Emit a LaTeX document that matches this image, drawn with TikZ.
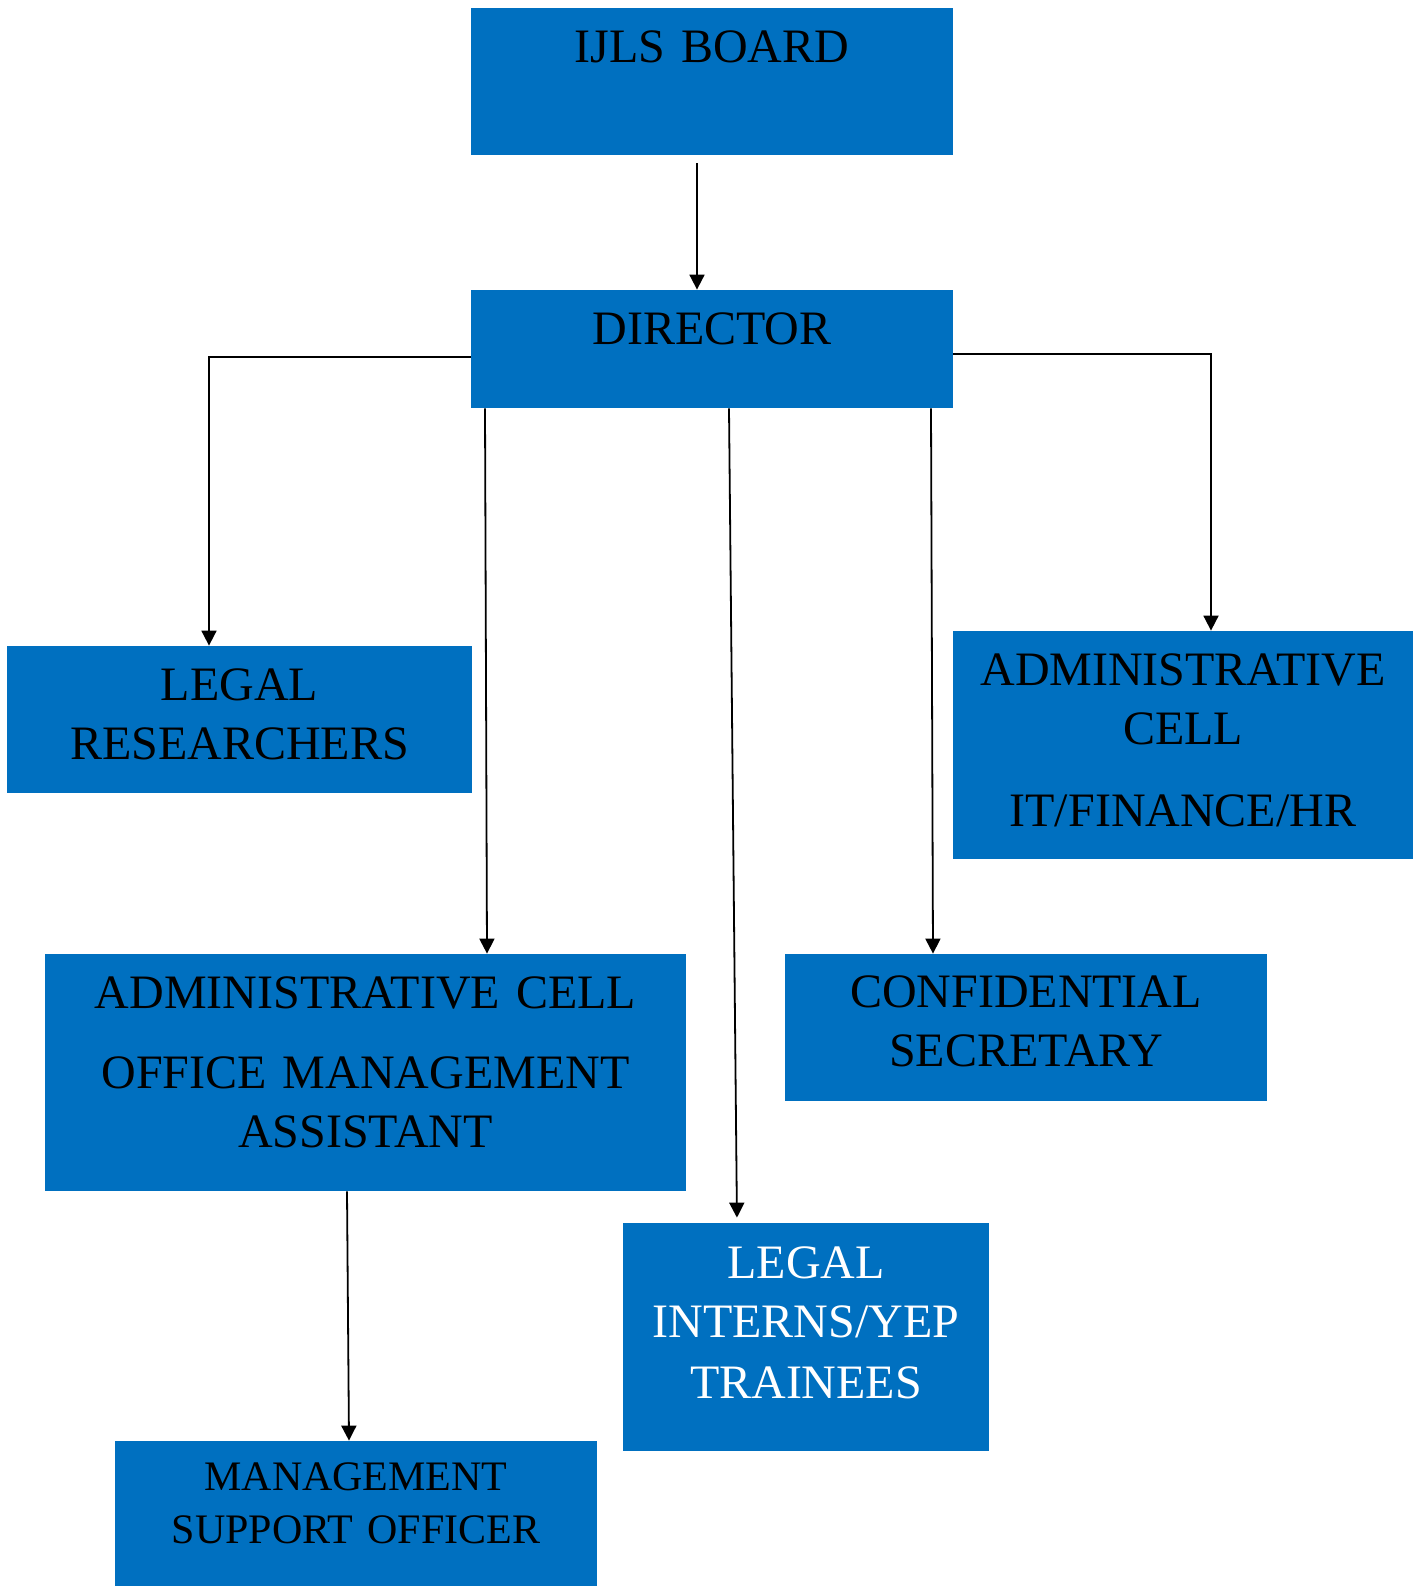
\documentclass[tikz,border=0pt]{standalone}
\usepackage{fontspec}
\setmainfont{Liberation Serif}
\usepackage{tikz}
\usetikzlibrary{arrows.meta}
\definecolor{ijlsblue}{RGB}{0,112,192}

\begin{document}
\begin{tikzpicture}[x=0.5pt, y=-0.5pt,
    unit/.style={fill=ijlsblue, inner sep=0pt, align=center, anchor=base,
        font=\fontsize{24pt}{29.5pt}\selectfont},
    link/.style={->, line width=0.9pt},
    >={Triangle[length=7.5pt, width=7.5pt]}]

    \useasboundingbox (0,0) rectangle (1418,1586);

    % Nodes
    \node at (712,62) (board) [unit, text width=241pt, text height=27pt, text depth=46.5pt] {IJLS BOARD};
    \node at (712,344) (director) [unit, text width=241pt, text height=27pt, text depth=32pt] {DIRECTOR};
    \node at (239.5,700) (legal) [unit, text width=232.5pt, text height=27pt, text depth=46.5pt] {LEGAL\\RESEARCHERS};
    \node at (1183,685) (itcell) [unit, text width=230pt, text height=27pt, text depth=87pt] {ADMINISTRATIVE\\CELL\\[11.5pt]IT/FINANCE/HR};
    \node at (365.5,1008) (officecell) [unit, text width=320.5pt, text height=27pt, text depth=91.5pt] {ADMINISTRATIVE CELL\\[10.5pt]OFFICE MANAGEMENT\\ASSISTANT};
    \node at (1026,1007) (secretary) [unit, text width=241pt, text height=26.5pt, text depth=47pt] {CONFIDENTIAL\\SECRETARY};
    \node at (806,1278) (interns) [unit, text width=183pt, text height=27.5pt, text depth=86.5pt, text=white] {LEGAL\\INTERNS/YEP\\[1pt]TRAINEES};
    \node at (356,1490) (mso) [unit, text width=241pt, text height=24.5pt, text depth=50pt, font=\fontsize{21pt}{26.5pt}\selectfont] {MANAGEMENT\\SUPPORT OFFICER};

    % Arrows
    \draw[link] ([xshift=-7.5pt, yshift=-4pt]board.south) -- ([xshift=-7.5pt]director.north);
    \draw[link] ([yshift=-4pt]director.west) -| ([xshift=-15.25pt]legal.north);
    \draw[link] ([yshift=-2.5pt]director.east) -| ([xshift=14pt]itcell.north);
    \draw[link] ([xshift=-113.5pt]director.south) -- ([xshift=60.75pt]officecell.north);
    \draw[link, shorten >=2.5pt] ([xshift=8.5pt]director.south) -- ([xshift=-34.5pt]interns.north);
    \draw[link] ([xshift=109.5pt]director.south) -- ([xshift=-46.5pt]secretary.north);
    \draw[link] ([xshift=-9.25pt]officecell.south) -- ([xshift=-3.5pt]mso.north);

\end{tikzpicture}
\end{document}
